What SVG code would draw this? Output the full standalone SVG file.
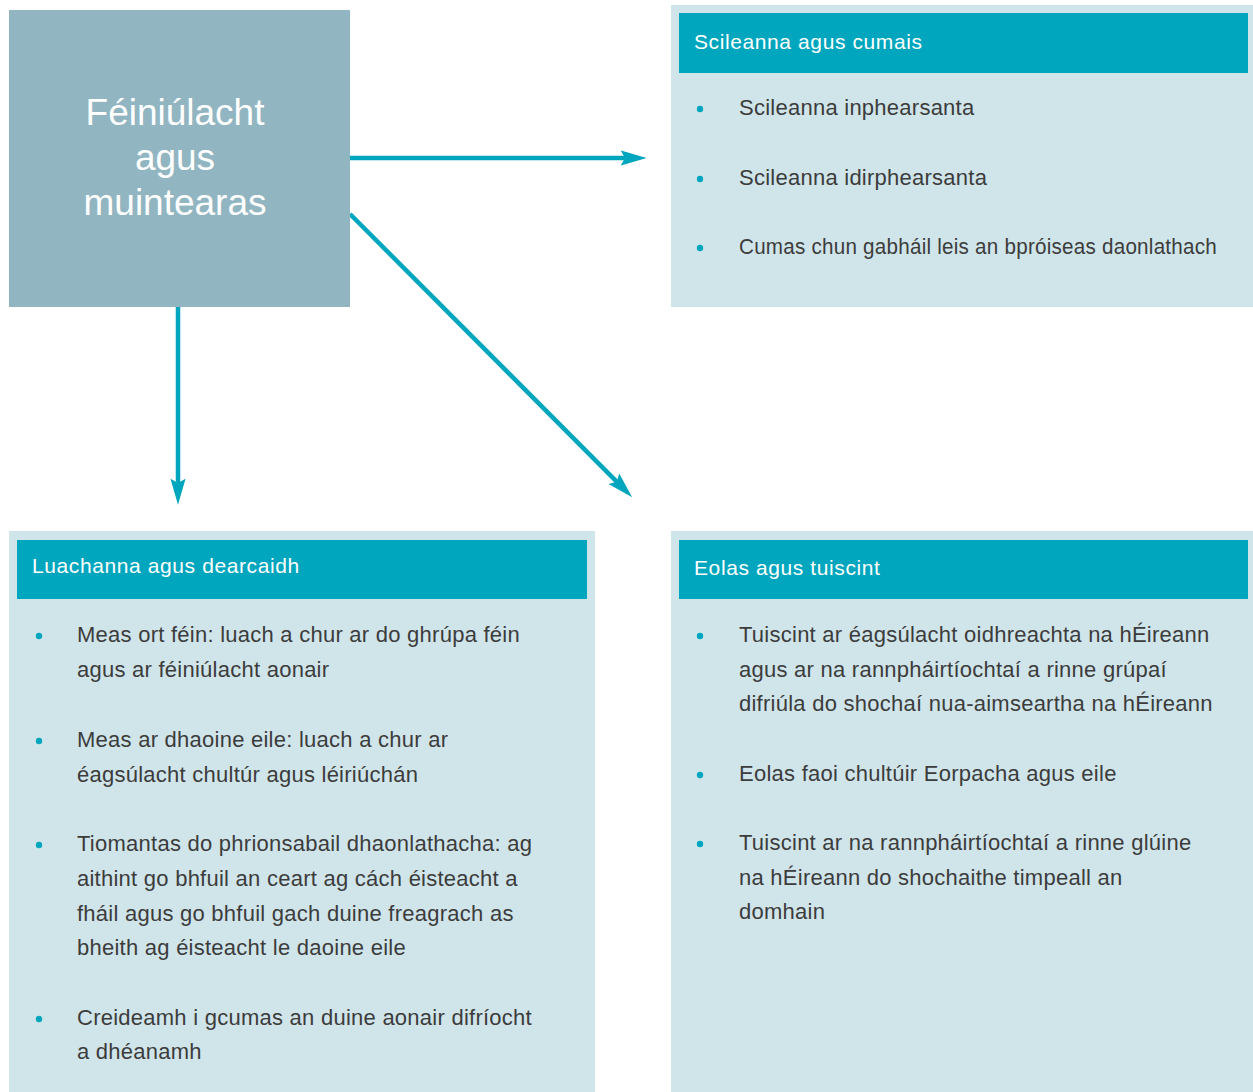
<svg xmlns="http://www.w3.org/2000/svg" width="1253" height="1092" viewBox="0 0 1253 1092">
<style>
.panel{fill:#d0e5ea}
.hdr{fill:#00a6bd}
.hdrt{font-family:"Liberation Sans",Arial,sans-serif;font-size:21px;letter-spacing:0.6px;fill:#ffffff}
.body{font-family:"Liberation Sans",Arial,sans-serif;font-size:22px;letter-spacing:0.25px;fill:#3c3c3c}
.dot{fill:#00a6bd}
.title{font-family:"Liberation Sans",Arial,sans-serif;font-size:37px;fill:#ffffff;text-anchor:middle}
.conn{stroke:#00a6bd;stroke-width:4.5;fill:none;marker-end:url(#ah)}
</style>
<defs>
<marker id="ah" markerUnits="userSpaceOnUse" markerWidth="26" markerHeight="16" viewBox="0 0 24 14" refX="4" refY="7" orient="auto">
<path d="M0,0 L24,7 L0,14 L4,7 Z" fill="#00a6bd"/>
</marker>
</defs>
<rect width="1253" height="1092" fill="#ffffff"/>

<g id="connectors">
<path class="conn" d="M350,158 L625,158"/>
<path class="conn" d="M178,307 L178,483"/>
<path class="conn" d="M350,214 L616.9,481.8"/>
</g>

<g id="node-center">
<rect x="9" y="10" width="341" height="297" fill="#91b5c1"/>
<text class="title" x="175" y="125">Féiniúlacht</text>
<text class="title" x="175" y="170">agus</text>
<text class="title" x="175" y="215">muintearas</text>
</g>

<g id="node-skills">
<rect class="panel" x="671" y="5" width="582" height="302"/>
<rect class="hdr" x="679" y="13" width="569" height="60"/>
<text class="hdrt" x="694" y="49">Scileanna agus cumais</text>
<circle class="dot" cx="700" cy="109" r="3.2"/>
<text class="body" x="739" y="115">Scileanna inphearsanta</text>
<circle class="dot" cx="700" cy="179" r="3.2"/>
<text class="body" x="739" y="185">Scileanna idirphearsanta</text>
<circle class="dot" cx="700" cy="248" r="3.2"/>
<text class="body" x="739" y="254" textLength="478" lengthAdjust="spacingAndGlyphs">Cumas chun gabháil leis an bpróiseas daonlathach</text>
</g>

<g id="node-values">
<rect class="panel" x="9" y="531" width="586" height="561"/>
<rect class="hdr" x="17" y="540" width="570" height="59"/>
<text class="hdrt" x="32" y="573">Luachanna agus dearcaidh</text>
<circle class="dot" cx="39" cy="636" r="3.2"/>
<text class="body" x="77" y="642">Meas ort féin: luach a chur ar do ghrúpa féin</text>
<text class="body" x="77" y="677">agus ar féiniúlacht aonair</text>
<circle class="dot" cx="39" cy="741" r="3.2"/>
<text class="body" x="77" y="747">Meas ar dhaoine eile: luach a chur ar</text>
<text class="body" x="77" y="782">éagsúlacht chultúr agus léiriúchán</text>
<circle class="dot" cx="39" cy="845" r="3.2"/>
<text class="body" x="77" y="851">Tiomantas do phrionsabail dhaonlathacha: ag</text>
<text class="body" x="77" y="886">aithint go bhfuil an ceart ag cách éisteacht a</text>
<text class="body" x="77" y="921">fháil agus go bhfuil gach duine freagrach as</text>
<text class="body" x="77" y="955">bheith ag éisteacht le daoine eile</text>
<circle class="dot" cx="39" cy="1019" r="3.2"/>
<text class="body" x="77" y="1025">Creideamh i gcumas an duine aonair difríocht</text>
<text class="body" x="77" y="1059">a dhéanamh</text>
</g>

<g id="node-knowledge">
<rect class="panel" x="671" y="531" width="582" height="561"/>
<rect class="hdr" x="679" y="540" width="569" height="59"/>
<text class="hdrt" x="694" y="575">Eolas agus tuiscint</text>
<circle class="dot" cx="700" cy="636" r="3.2"/>
<text class="body" x="739" y="642">Tuiscint ar éagsúlacht oidhreachta na hÉireann</text>
<text class="body" x="739" y="677">agus ar na rannpháirtíochtaí a rinne grúpaí</text>
<text class="body" x="739" y="711">difriúla do shochaí nua-aimseartha na hÉireann</text>
<circle class="dot" cx="700" cy="775" r="3.2"/>
<text class="body" x="739" y="781">Eolas faoi chultúir Eorpacha agus eile</text>
<circle class="dot" cx="700" cy="844" r="3.2"/>
<text class="body" x="739" y="850">Tuiscint ar na rannpháirtíochtaí a rinne glúine</text>
<text class="body" x="739" y="885">na hÉireann do shochaithe timpeall an</text>
<text class="body" x="739" y="919">domhain</text>
</g>
</svg>
